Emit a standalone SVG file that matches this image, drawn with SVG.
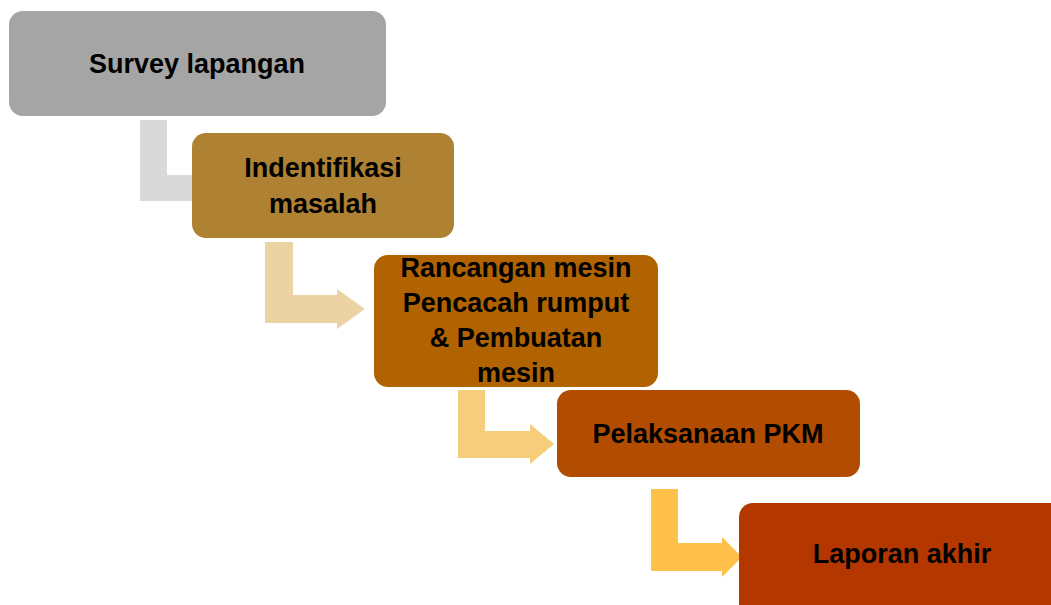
<svg xmlns="http://www.w3.org/2000/svg" width="1051" height="605" viewBox="0 0 1051 605">
<style>
.box{stroke:none}
.t{font-family:"Liberation Sans",Arial,sans-serif;font-weight:bold;font-size:27px;fill:#000;text-anchor:middle}
</style>
<rect width="1051" height="605" fill="#fff"/>
<g id="connectors">
<path d="M140,120 H167 V175 H192 V201 H140 Z" fill="#d9d9d9"/>
<path d="M265,242 H293 V295 H337 V289 L365,309 L337,329 V323 H265 Z" fill="#ebd3a4"/>
<path d="M458,390 H485 V431 H530 V424 L554,444 L530,464 V458 H458 Z" fill="#f5cd7b"/>
<path d="M651,489 H678 V543 H722 V537 L742,557 L722,577 V571 H651 Z" fill="#ffc14a"/>
</g>
<g id="node1">
<rect class="box" x="9" y="11" width="377" height="105" rx="14" fill="#a5a5a5"/>
<text class="t" x="197" y="73">Survey lapangan</text>
</g>
<g id="node2">
<rect class="box" x="192" y="133" width="262" height="105" rx="14" fill="#ae8232"/>
<text class="t" x="323" y="177">Indentifikasi</text>
<text class="t" x="323" y="213">masalah</text>
</g>
<g id="node3">
<rect class="box" x="374" y="255" width="284" height="132" rx="14" fill="#b06300"/>
<text class="t" x="516" y="277">Rancangan mesin</text>
<text class="t" x="516" y="312">Pencacah rumput</text>
<text class="t" x="516" y="347">&amp; Pembuatan</text>
<text class="t" x="516" y="382">mesin</text>
</g>
<g id="node4">
<rect class="box" x="557" y="390" width="303" height="87" rx="14" fill="#b14c00"/>
<text class="t" x="708" y="443">Pelaksanaan PKM</text>
</g>
<g id="node5">
<rect class="box" x="739" y="503" width="330" height="120" rx="14" fill="#b43700"/>
<text class="t" x="902" y="563">Laporan akhir</text>
</g>
</svg>
